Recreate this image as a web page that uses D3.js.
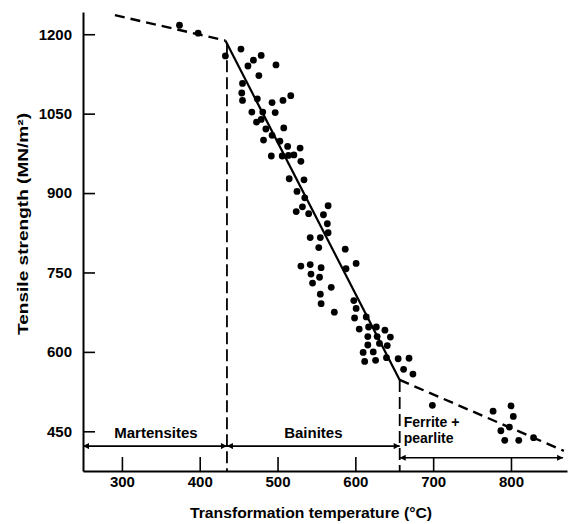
<!DOCTYPE html>
<html>
<head>
<meta charset="utf-8">
<script src="https://cdn.jsdelivr.net/npm/d3@7"></script>
<style>
  body { margin: 0; background: #fff; }
  text { font-family: "Liberation Sans", Arial, sans-serif; fill: #000; }
</style>
</head>
<body>
<div id="chart"></div>
<script>
// data: [temperature (C), tensile strength (MN/m2)]
var martensitePoints = [[374, 1217], [398, 1202]];

var bainitePoints = [
  [453, 1172], [433, 1159], [469, 1151], [479, 1160], [462, 1140], [498, 1142], [476, 1122],
  [455, 1107], [454, 1089], [455, 1075], [474, 1078], [493, 1071], [507, 1075], [517, 1084],
  [467, 1053], [481, 1053], [497, 1052], [473, 1034], [479, 1039], [485, 1021], [508, 1023],
  [482, 1000], [493, 1009], [503, 998], [513, 988], [529, 985], [492, 970], [506, 970],
  [514, 971], [521, 972], [530, 960], [515, 927], [534, 925], [525, 903], [535, 891],
  [532, 874], [524, 865], [540, 861], [565, 876], [559, 859], [564, 842], [565, 825],
  [542, 816], [555, 816], [553, 797], [587, 794], [530, 762], [542, 765], [556, 759],
  [543, 747], [554, 741], [588, 757], [601, 767], [545, 730], [569, 722], [555, 709],
  [556, 691], [573, 675], [598, 697], [601, 682], [599, 664], [614, 666], [605, 643],
  [617, 647], [627, 647], [638, 641], [616, 629], [628, 629], [645, 628], [616, 613],
  [631, 616], [641, 612], [610, 599], [623, 600], [612, 582], [626, 584], [640, 589],
  [655, 587], [669, 588], [662, 567], [674, 558]
];

var ferritePoints = [
  [699, 499], [777, 488], [800, 498], [803, 478], [798, 458], [787, 451],
  [792, 433], [810, 433], [829, 438]
];

// trend lines
var upperDashed = [[291, 1236], [433, 1188]];
var bainiteLine = [[433, 1188], [657, 547]];
var lowerDashed = [[657, 547], [868, 413]];

// phase boundaries and arrow levels
var boundaries = [[435, 1183], [657, 547]];
var phaseArrows = [
  { from: 250, to: 435, level: 422, label: ["Martensites"] },
  { from: 435, to: 657, level: 422, label: ["Bainites"] },
  { from: 657, to: 867, level: 400, label: ["Ferrite +", "pearlite"] }
];

var xTicks = [300, 400, 500, 600, 700, 800];
var yTicks = [450, 600, 750, 900, 1050, 1200];

// styling
var svgWidth = 568;
var svgHeight = 524;

var svg = d3.select("#chart")
  .append("svg")
  .attr("width", svgWidth)
  .attr("height", svgHeight);

var xScale = d3.scaleLinear().domain([250, 872]).range([83, 567]);
var yScale = d3.scaleLinear().domain([375, 1242]).range([471, 12]);

// arrow heads
var defs = svg.append("defs");
defs.append("marker")
  .attr("id", "head")
  .attr("viewBox", "0 0 10 10")
  .attr("refX", 10)
  .attr("refY", 5)
  .attr("markerWidth", 9)
  .attr("markerHeight", 6)
  .attr("markerUnits", "userSpaceOnUse")
  .attr("orient", "auto-start-reverse")
  .append("path")
  .attr("d", "M0,0 L10,5 L0,10 Z")
  .attr("fill", "#000");

// axes
var yAxis = d3.axisLeft(yScale)
  .tickValues(yTicks)
  .tickFormat(d3.format("d"))
  .tickSizeInner(-12)
  .tickSizeOuter(0)
  .tickPadding(11);

var xAxis = d3.axisBottom(xScale)
  .tickValues(xTicks)
  .tickFormat(d3.format("d"))
  .tickSizeInner(-14)
  .tickSizeOuter(0)
  .tickPadding(5);

var yG = svg.append("g")
  .attr("transform", "translate(83,0)")
  .call(yAxis);

var xG = svg.append("g")
  .attr("transform", "translate(0,471)")
  .call(xAxis);

[yG, xG].forEach(function(g) {
  g.select(".domain").attr("stroke", "#000").attr("stroke-width", 2);
  g.selectAll(".tick line").attr("stroke", "#000").attr("stroke-width", 1.6);
  g.selectAll(".tick text")
    .attr("font-family", "Liberation Sans, Arial, sans-serif")
    .attr("font-size", "15px")
    .attr("font-weight", "bold")
    .attr("fill", "#000");
});

// axis titles
svg.append("text")
  .attr("x", 311)
  .attr("y", 518)
  .attr("text-anchor", "middle")
  .attr("font-size", "15px")
  .attr("font-weight", "bold")
  .attr("textLength", 242)
  .attr("lengthAdjust", "spacingAndGlyphs")
  .text("Transformation temperature (°C)");

svg.append("text")
  .attr("transform", "translate(28,224) rotate(-90)")
  .attr("text-anchor", "middle")
  .attr("font-size", "15px")
  .attr("font-weight", "bold")
  .attr("textLength", 222)
  .attr("lengthAdjust", "spacingAndGlyphs")
  .text("Tensile strength (MN/m²)");

// lines
var line = d3.line()
  .x(d => xScale(d[0]))
  .y(d => yScale(d[1]));

svg.append("path")
  .attr("d", line(bainiteLine))
  .attr("fill", "none")
  .attr("stroke", "#000")
  .attr("stroke-width", 2.2);

[upperDashed, lowerDashed].forEach(function(seg) {
  svg.append("path")
    .attr("d", line(seg))
    .attr("fill", "none")
    .attr("stroke", "#000")
    .attr("stroke-width", 2.4)
    .attr("stroke-dasharray", "10,6");
});

// phase boundaries
svg.selectAll(".boundary")
  .data(boundaries)
  .enter()
  .append("line")
  .attr("class", "boundary")
  .attr("x1", d => xScale(d[0]))
  .attr("x2", d => xScale(d[0]))
  .attr("y1", d => yScale(d[1]))
  .attr("y2", yScale(375))
  .attr("stroke", "#000")
  .attr("stroke-width", 1.8)
  .attr("stroke-dasharray", "12,5");

// phase arrows + labels
phaseArrows.forEach(function(p) {
  svg.append("line")
    .attr("x1", xScale(p.from))
    .attr("x2", xScale(p.to))
    .attr("y1", yScale(p.level))
    .attr("y2", yScale(p.level))
    .attr("stroke", "#000")
    .attr("stroke-width", 1.6)
    .attr("marker-start", "url(#head)")
    .attr("marker-end", "url(#head)");
});

svg.append("text")
  .attr("x", (xScale(250) + xScale(435)) / 2 + 1)
  .attr("y", 438)
  .attr("text-anchor", "middle")
  .attr("font-size", "15px")
  .attr("font-weight", "bold")
  .text(phaseArrows[0].label[0]);

svg.append("text")
  .attr("x", (xScale(435) + xScale(657)) / 2)
  .attr("y", 438)
  .attr("text-anchor", "middle")
  .attr("font-size", "15px")
  .attr("font-weight", "bold")
  .text(phaseArrows[1].label[0]);

// two-line label, kept as separate texts so they don't overlap
phaseArrows[2].label.forEach(function(t, i) {
  svg.append("text")
    .attr("x", xScale(657) + 4)
    .attr("y", 427 + i * 16)
    .attr("font-size", "14px")
    .attr("font-weight", "bold")
    .text(t);
});

// points
var allPoints = martensitePoints.concat(bainitePoints, ferritePoints);
svg.selectAll("circle")
  .data(allPoints)
  .enter()
  .append("circle")
  .attr("cx", d => xScale(d[0]))
  .attr("cy", d => yScale(d[1]))
  .attr("r", 3.4)
  .attr("fill", "#000");
</script>
</body>
</html>
